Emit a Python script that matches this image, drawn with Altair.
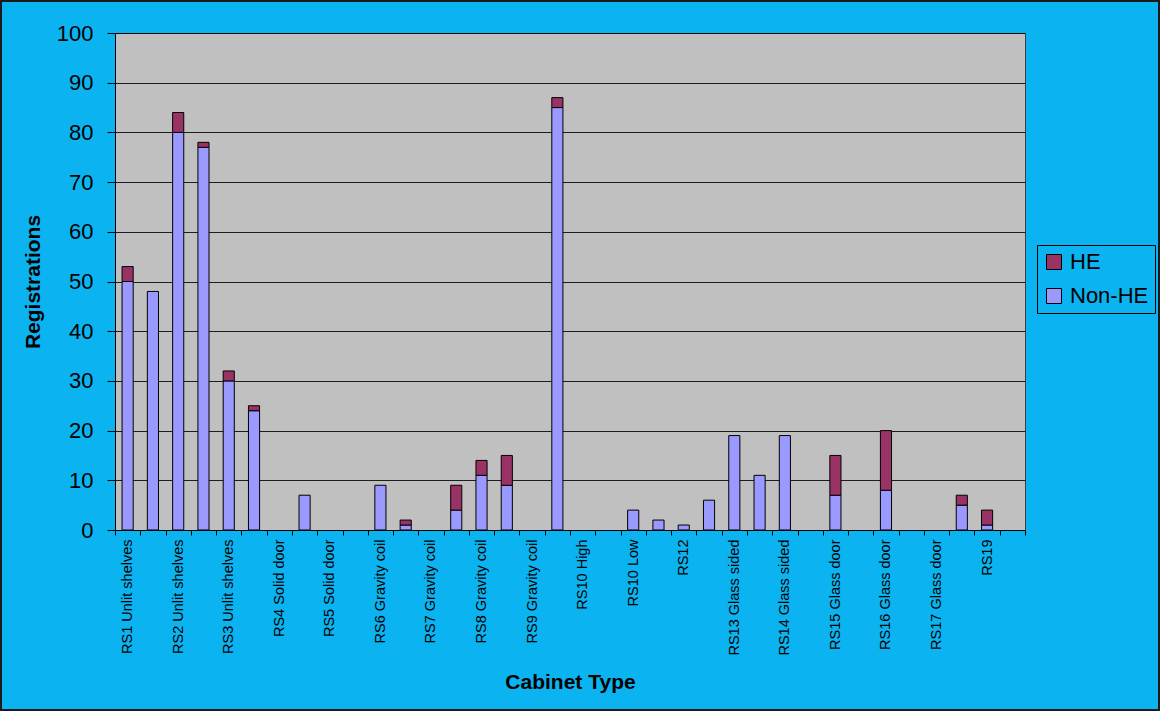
import json
import altair as alt
import pandas as pd

# 36 category slots; only every other slot carries a visible label
slot_labels = [
    "RS1 Unlit shelves", "", "RS2 Unlit shelves", "", "RS3 Unlit shelves", "",
    "RS4 Solid door", "", "RS5 Solid door", "", "RS6 Gravity coil", "",
    "RS7 Gravity coil", "", "RS8 Gravity coil", "", "RS9 Gravity coil", "",
    "RS10 High", "", "RS10 Low", "", "RS12", "",
    "RS13 Glass sided", "", "RS14 Glass sided", "", "RS15 Glass door", "",
    "RS16 Glass door", "", "RS17 Glass door", "", "RS19", "",
]
non_he = [50, 48, 80, 77, 30, 24, 0, 7, 0, 0, 9, 1, 0, 4, 11, 9, 0, 85,
          0, 0, 4, 2, 1, 6, 19, 11, 19, 0, 7, 0, 8, 0, 0, 5, 1, 0]
he = [3, 0, 4, 1, 2, 1, 0, 0, 0, 0, 0, 1, 0, 5, 3, 6, 0, 2,
      0, 0, 0, 0, 0, 0, 0, 0, 0, 0, 8, 0, 12, 0, 0, 2, 3, 0]
series = ["HE", "Non-HE"]
colors = ["#993366", "#9999ff"]

rows = []
for i in range(len(slot_labels)):
    if non_he[i] > 0:
        rows.append({"slot": i, "series": "Non-HE", "value": non_he[i], "ord": 0})
    if he[i] > 0:
        rows.append({"slot": i, "series": "HE", "value": he[i], "ord": 1})
df = pd.DataFrame(rows)

BG = "#0bb4f0"
FONT = "Liberation Sans, Arial, sans-serif"
W, H = 910, 497

label_expr = json.dumps(slot_labels) + "[datum.value]"

bars = alt.Chart(df).mark_bar(
    stroke="black", strokeWidth=1, width=alt.RelativeBandSize(band=0.44)
).encode(
    x=alt.X(
        "slot:O",
        scale=alt.Scale(domain=list(range(len(slot_labels))), paddingInner=0, paddingOuter=0),
        axis=alt.Axis(
            title="Cabinet Type",
            labelExpr=label_expr,
            labelAngle=270,
            labelFont=FONT,
            labelFontSize=14.5,
            labelColor="black",
            labelPadding=4,
            tickBand="extent",
            tickSize=5,
            tickColor="black",
            domainColor="black",
            titleFont=FONT,
            titleFontSize=21,
            titleFontWeight="bold",
            titleColor="black",
            titleX=W / 2,
            titleY=158,
            titleBaseline="alphabetic",
            titleAlign="center",
            labelOverlap=False,
        ),
    ),
    y=alt.Y(
        "value:Q",
        stack="zero",
        scale=alt.Scale(domain=[0, 100], nice=False),
        axis=alt.Axis(
            title="Registrations",
            values=list(range(0, 101, 10)),
            labelFont=FONT,
            labelFontSize=22,
            labelColor="black",
            labelPadding=14,
            tickSize=8,
            tickColor="black",
            domainColor="black",
            gridColor="black",
            gridOpacity=0.85,
            titleFont=FONT,
            titleFontSize=21,
            titleFontWeight="bold",
            titleColor="black",
            titleX=-76,
            titleY=H / 2,
            titleBaseline="alphabetic",
            titleAlign="center",
            titleAngle=270,
        ),
    ),
    color=alt.Color(
        "series:N",
        scale=alt.Scale(domain=series, range=colors),
        legend=alt.Legend(
            title=None,
            orient="none",
            legendX=922,
            legendY=212,
            symbolType="square",
            symbolSize=225,
            symbolStrokeColor="black",
            symbolStrokeWidth=1,
            symbolOpacity=1,
            labelFont=FONT,
            labelFontSize=22,
            labelColor="black",
            labelOffset=5,
            rowPadding=12,
            padding=6,
            strokeColor="black",
            fillColor=BG,
        ),
    ),
    order=alt.Order("ord:Q"),
)

frame = alt.Chart(alt.Data(values=[{}])).mark_rect(
    fill=None, stroke="#1a1a1a", strokeWidth=2, clip=False
).encode(
    x=alt.value(-114), x2=alt.value(1044), y=alt.value(-32), y2=alt.value(677)
)

chart = alt.layer(bars, frame).properties(
    width=W,
    height=H,
    padding={"left": 115, "top": 33, "right": 135, "bottom": 181},
    autosize=alt.AutoSizeParams(type="none"),
    background=BG,
).configure_view(
    fill="#c0c0c0", stroke="#404040", strokeWidth=1
)

chart.save("out.html", embed_options={"renderer": "svg", "actions": False})
